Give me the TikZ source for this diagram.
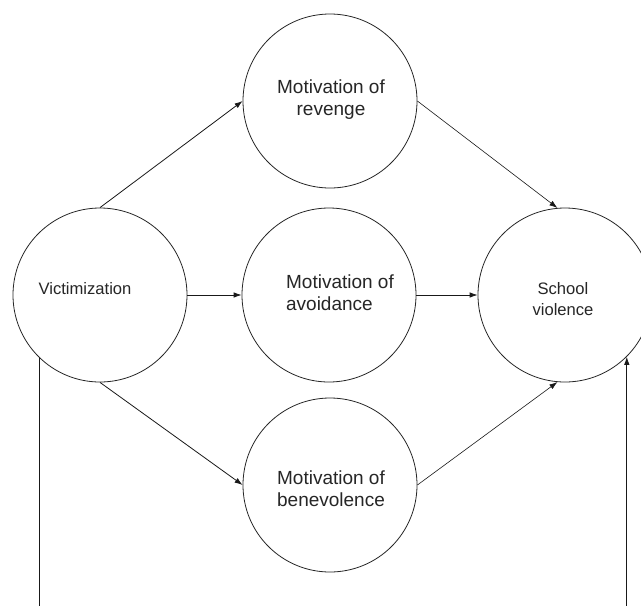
\documentclass[tikz,border=0pt]{standalone}
\usepackage{fontspec}
\setmainfont{Liberation Sans}
\usetikzlibrary{arrows.meta,calc}
\begin{document}
\begin{tikzpicture}[x=1pt,y=-1pt,
  circ/.style={circle,draw=black!85,line width=0.8pt,minimum size=174pt,inner sep=0pt},
  lab/.style={text=black!85,font=\fontsize{19}{22}\selectfont,align=center,inner sep=0pt},
  labs/.style={text=black!85,font=\fontsize{16.6}{21}\selectfont,align=center,inner sep=0pt},
  conn/.style={draw=black!90,line width=0.8pt,-{Latex[length=8pt,width=5.5pt]}},
  plain/.style={draw=black!90,line width=0.8pt},
  ]
\clip (0,0) rectangle (641,606);
\fill[white] (0,0) rectangle (641,606);
\node[circ] (vic) at (100,295) {};
\node[circ] (rev) at (330,101) {};
\node[circ] (avo) at (329,295) {};
\node[circ] (ben) at (330,485) {};
\node[circ] (sch) at (565,295) {};
\node[labs] (tvic) at (85,289) {Victimization};
\node[lab] (trev) at (331,100) {Motivation of\\revenge};
\node[lab,align=left] (tavo) at (340,293) {Motivation of\\avoidance};
\node[lab] (tben) at (331,489) {Motivation of\\benevolence};
\node[labs] (tsch) at (563,299) {School\\violence};
\coordinate (bot) at (0,620);
\draw[conn] (vic.north) -- (rev.west);
\draw[conn] (vic.east) -- (avo.west);
\draw[conn] (vic.south) -- (ben.west);
\draw[conn,line width=0.6pt] (rev.east) -- (sch.95);
\draw[conn] (avo.east) -- (sch.west);
\draw[conn,line width=0.6pt] (ben.east) -- (sch.265);
\draw[plain] (vic.226) -- (vic.226 |- bot);
\draw[conn] (sch.-45.5 |- bot) -- (sch.-45.5);
\end{tikzpicture}
\end{document}
